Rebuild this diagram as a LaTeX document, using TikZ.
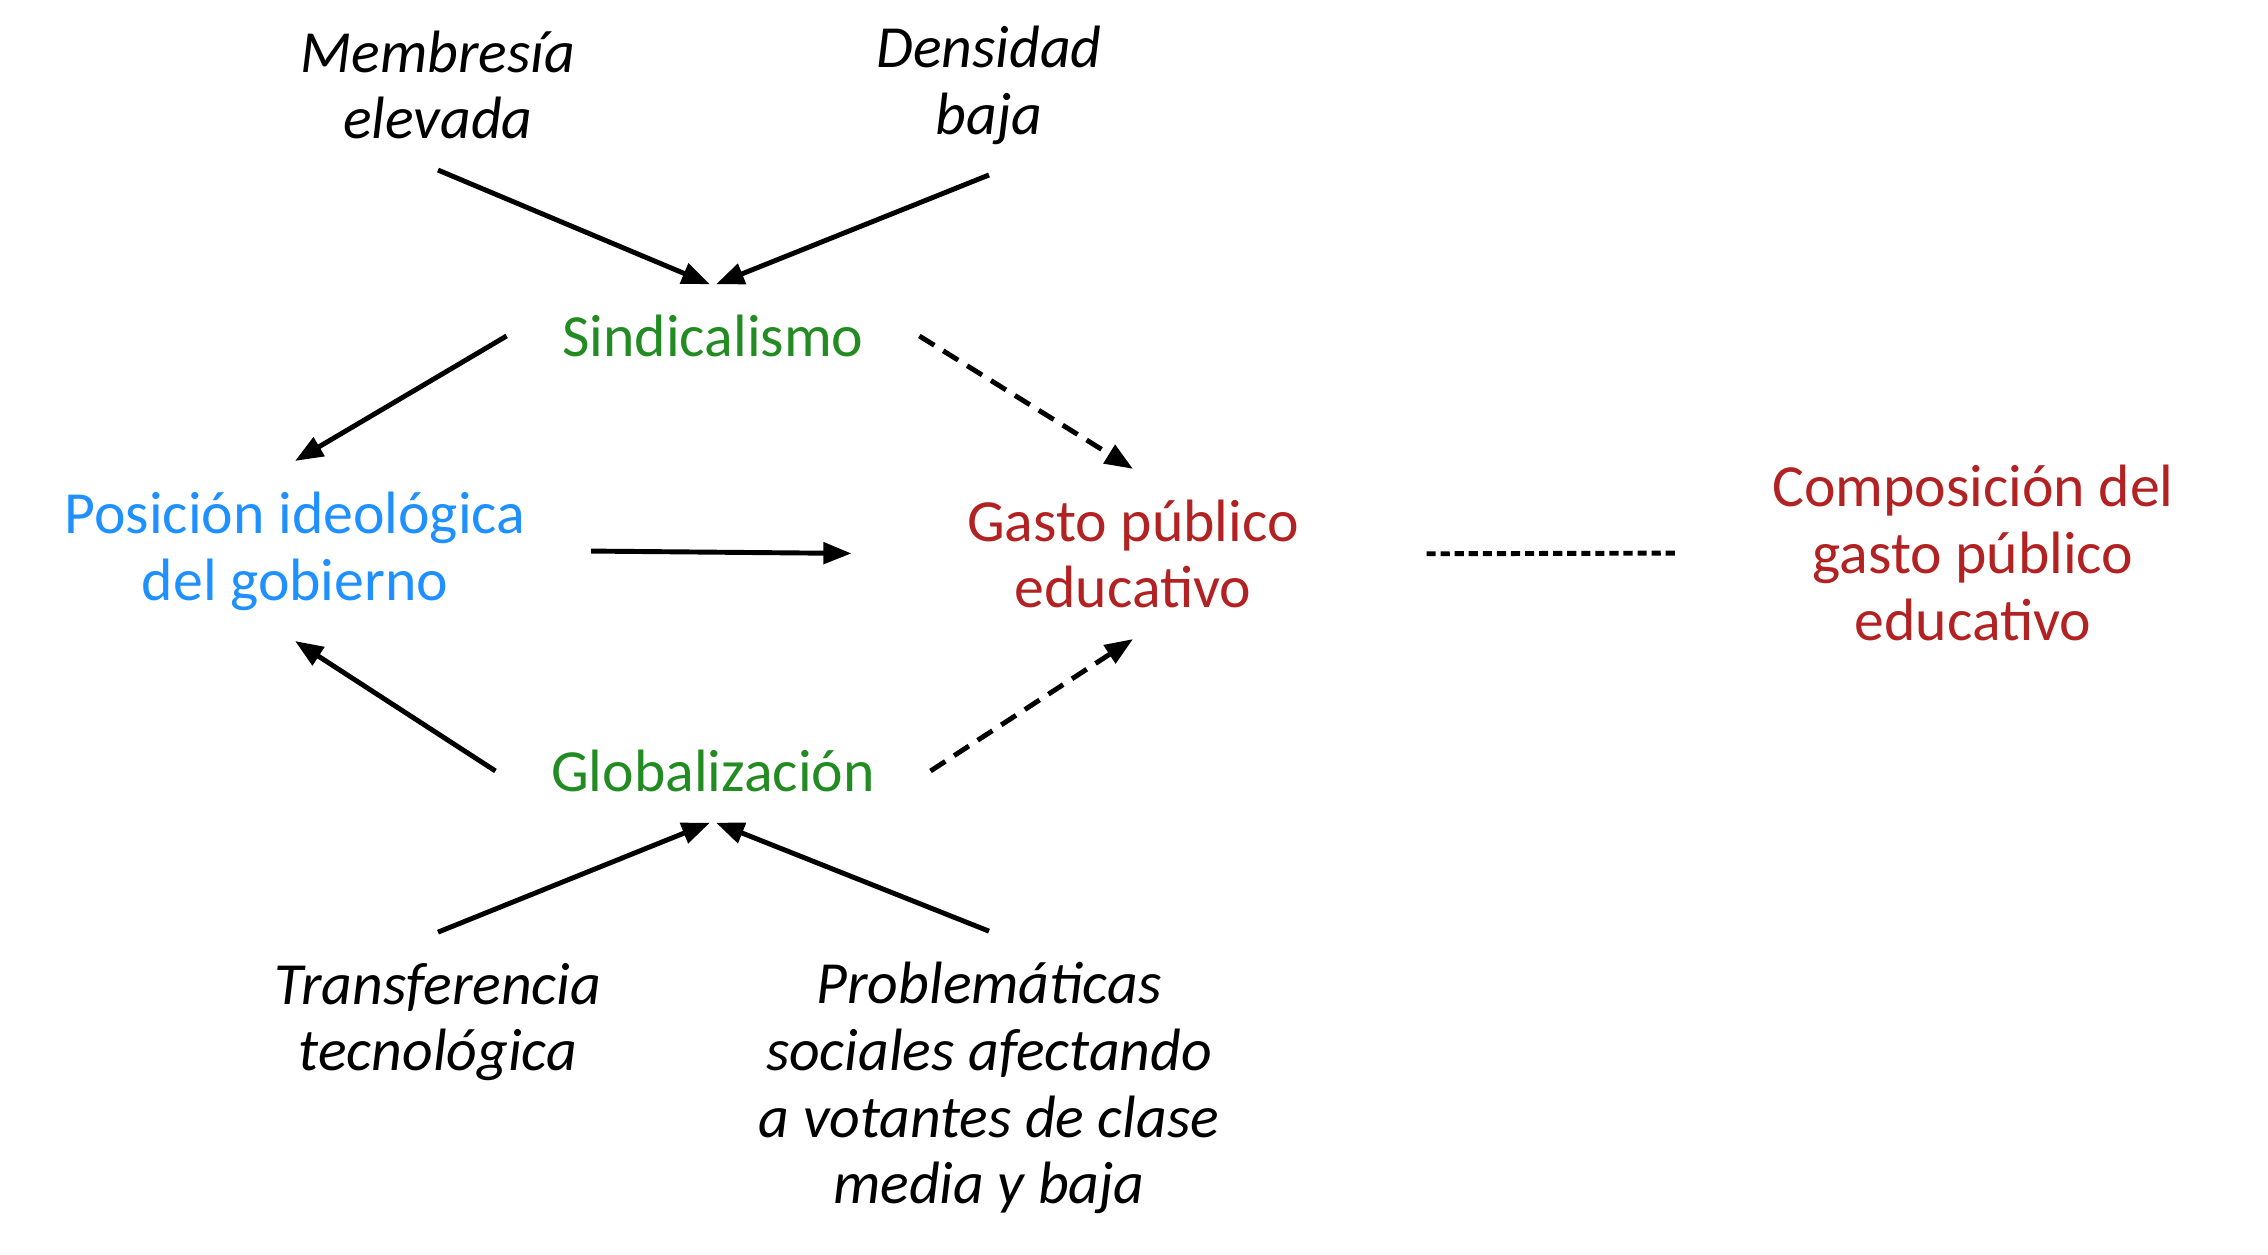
\documentclass[tikz,border=0pt]{standalone}
\usepackage{fontspec}
\setmainfont{Carlito}
\usetikzlibrary{arrows.meta}
\definecolor{sindgreen}{RGB}{34,139,34}
\definecolor{posblue}{RGB}{30,144,255}
\definecolor{gastored}{RGB}{178,34,34}
\tikzset{
  lbl/.style={align=center, font=\fontsize{17}{19}\selectfont, inner xsep=0.55cm, inner ysep=0.3cm},
  factor/.style={lbl, font=\fontsize{17}{19}\selectfont\itshape},
  arr/.style={line width=1.4pt, -{Triangle[length=8pt,width=6pt]}},
  darr/.style={arr, dash pattern=on 5pt off 3pt},
}
\begin{document}
\begin{tikzpicture}[x=0.01cm, y=0.01cm]
    \useasboundingbox (0,0) rectangle (2268,1255);
    \node[factor] (memb) at (438,1170) {Membresía\\elevada};
    \node[factor] (dens) at (989,1170) {Densidad\\baja};
    \node[lbl, text=sindgreen] (sind) at (713,919) {Sindicalismo};
    \node[lbl, text=posblue] (pos) at (295,704) {Posición ideológica\\del gobierno};
    \node[lbl, text=gastored] (gasto) at (1133,701) {Gasto público\\educativo};
    \node[lbl, text=gastored] (comp) at (1973,702) {Composición del\\gasto público\\educativo};
    \node[lbl, text=sindgreen] (glob) at (713,484) {Globalización};
    \node[factor] (trans) at (438,233) {Transferencia\\tecnológica};
    \node[factor] (prob) at (989,167) {Problemáticas\\sociales afectando\\a votantes de clase\\media y baja};
    \draw[arr] (memb.south) -- ([xshift=-0.03cm]sind.north);
    \draw[arr] (dens.south) -- ([xshift=0.03cm]sind.north);
    \draw[arr] (sind.west) -- (pos.north);
    \draw[darr] (sind.east) -- (gasto.north);
    \draw[arr, shorten <=0.1cm, shorten >=0.6cm] (pos.east) -- (gasto.west);
    \draw[line width=1.4pt, dash pattern=on 2.6pt off 1.4pt, shorten <=0.72cm, shorten >=0.37cm] (gasto.east) -- (comp.west);
    \draw[arr] (glob.west) -- (pos.south);
    \draw[darr] (glob.east) -- (gasto.south);
    \draw[arr] (trans.north) -- ([xshift=-0.03cm]glob.south);
    \draw[arr] (prob.north) -- ([xshift=0.03cm]glob.south);
\end{tikzpicture}
\end{document}
